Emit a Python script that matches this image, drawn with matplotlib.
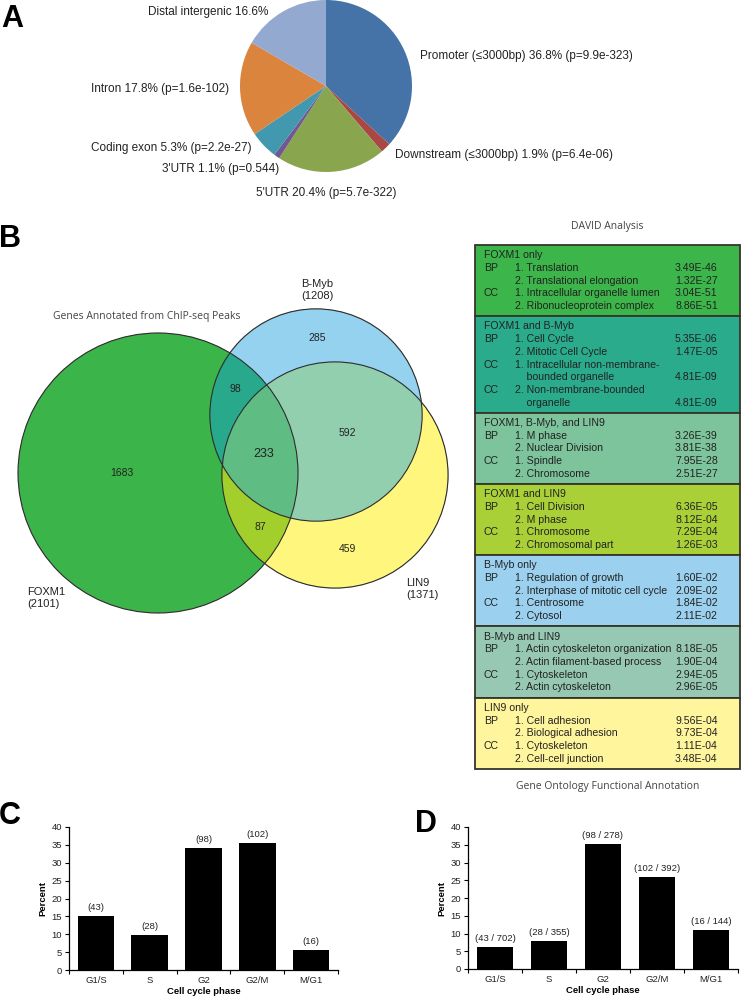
import numpy as np
import matplotlib.pyplot as plt
from matplotlib.patches import Circle, Rectangle

plt.rcParams['font.family'] = ['Liberation Sans', 'DejaVu Sans']

W, H = 742, 998

# ---------------------------------------------------------------- panel A data
pie_names = ["Promoter (\u22643000bp)", "Downstream (\u22643000bp)", "5'UTR", "3'UTR",
             "Coding exon", "Intron", "Distal intergenic"]
pie_pct = [36.8, 1.9, 20.4, 1.1, 5.3, 17.8, 16.6]
pie_pval = ["9.9e-323", "6.4e-06", "5.7e-322", "0.544", "2.2e-27", "1.6e-102", None]
pie_colors = ["#4572a7", "#aa4643", "#89a54e", "#71588f", "#4198af", "#db843d", "#93a9cf"]

# ---------------------------------------------------------------- panel B data
venn_names = ["FOXM1", "B-Myb", "LIN9"]
venn_totals = [2101, 1208, 1371]
# regions: A only, B only, C only, AB, AC, BC, ABC
venn_regions = ["100", "010", "001", "110", "101", "011", "111"]
venn_counts = [1683, 285, 459, 98, 87, 592, 233]
venn_colors = ["#3bb54a", "#94d2ef", "#fff67f", "#2aa98b", "#a4cf2e", "#93cfaf", "#5fbd84"]

david_titles = ["FOXM1 only", "FOXM1 and B-Myb", "FOXM1, B-Myb, and LIN9", "FOXM1 and LIN9",
                "B-Myb only", "B-Myb and LIN9", "LIN9 only"]
david_colors = ["#3cb54a", "#2aab8c", "#7dc39b", "#aad038", "#9bd0ee", "#97c8b3", "#fff59d"]
david_rows = [
    [("BP", "1. Translation", "3.49E-46"),
     ("", "2. Translational elongation", "1.32E-27"),
     ("CC", "1. Intracellular organelle lumen", "3.04E-51"),
     ("", "2. Ribonucleoprotein complex", "8.86E-51")],
    [("BP", "1. Cell Cycle", "5.35E-06"),
     ("", "2. Mitotic Cell Cycle", "1.47E-05"),
     ("CC", "1. Intracellular non-membrane-\n    bounded organelle", "4.81E-09"),
     ("CC", "2. Non-membrane-bounded\n    organelle", "4.81E-09")],
    [("BP", "1. M phase", "3.26E-39"),
     ("", "2. Nuclear Division", "3.81E-38"),
     ("CC", "1. Spindle", "7.95E-28"),
     ("", "2. Chromosome", "2.51E-27")],
    [("BP", "1. Cell Division", "6.36E-05"),
     ("", "2. M phase", "8.12E-04"),
     ("CC", "1. Chromosome", "7.29E-04"),
     ("", "2. Chromosomal part", "1.26E-03")],
    [("BP", "1. Regulation of growth", "1.60E-02"),
     ("", "2. Interphase of mitotic cell cycle", "2.09E-02"),
     ("CC", "1. Centrosome", "1.84E-02"),
     ("", "2. Cytosol", "2.11E-02")],
    [("BP", "1. Actin cytoskeleton organization", "8.18E-05"),
     ("", "2. Actin filament-based process", "1.90E-04"),
     ("CC", "1. Cytoskeleton", "2.94E-05"),
     ("", "2. Actin cytoskeleton", "2.96E-05")],
    [("BP", "1. Cell adhesion", "9.56E-04"),
     ("", "2. Biological adhesion", "9.73E-04"),
     ("CC", "1. Cytoskeleton", "1.11E-04"),
     ("", "2. Cell-cell junction", "3.48E-04")],
]

# ---------------------------------------------------------------- panels C/D data
phases = ["G1/S", "S", "G2", "G2/M", "M/G1"]
c_pct = [15.0, 9.8, 34.1, 35.5, 5.6]
c_labels = ["(43)", "(28)", "(98)", "(102)", "(16)"]
d_pct = [6.1, 7.9, 35.3, 26.0, 11.1]
d_labels = ["(43 / 702)", "(28 / 355)", "(98 / 278)", "(102 / 392)", "(16 / 144)"]


def px_axes(fig, x0, y0, x1, y1):
    ''' axes placed by pixel box (top-left origin) '''
    return fig.add_axes([x0 / W, 1 - y1 / H, (x1 - x0) / W, (y1 - y0) / H])


fig = plt.figure(figsize=(W / 100, H / 100), dpi=100)

# canvas for everything positioned in pixels
cv = fig.add_axes([0, 0, 1, 1])
cv.axis("off")

letter_kw = dict(fontsize=22, fontweight="bold", ha="center", va="center")
cv.text(12, 19, "A", **letter_kw)
cv.text(10, 239, "B", **letter_kw)
cv.text(10, 816, "C", **letter_kw)
cv.text(426, 824, "D", **letter_kw)

# ---------------------------------------------------------------- pie
pax = px_axes(fig, 240, 0, 412, 172)
pax.pie(pie_pct, colors=pie_colors, startangle=90, counterclock=False, radius=1.0,
        wedgeprops=dict(linewidth=0))
pax.set_xlim(-1, 1)
pax.set_ylim(-1, 1)

pie_pos = [(420, 56, "left"), (395, 155, "left"), (256, 193, "left"), (279, 169, "right"),
           (252, 148, "right"), (229, 89, "right"), (268, 12, "right")]
for name, pct, p, (x, y, ha) in zip(pie_names, pie_pct, pie_pval, pie_pos):
    s = f"{name} {pct}%" + (f" (p={p})" if p else "")
    cv.text(x, y, s, fontsize=8.5, ha=ha, va="center", color="#222222")

# ---------------------------------------------------------------- venn
centers = [(158, 473), (316, 415), (335, 475)]
r0 = 140
radii = [r0 * np.sqrt(t / venn_totals[0]) for t in venn_totals]

gx0, gx1, gy0, gy1 = 0, 470, 270, 630
xs = np.linspace(gx0, gx1, (gx1 - gx0) * 4)
ys = np.linspace(gy0, gy1, (gy1 - gy0) * 4)
XX, YY = np.meshgrid(xs, ys)
masks = [(XX - cx) ** 2 + (YY - cy) ** 2 <= r ** 2 for (cx, cy), r in zip(centers, radii)]
img = np.zeros(XX.shape + (4,))
for key, col in zip(venn_regions, venn_colors):
    sel = np.ones(XX.shape, bool)
    for m, k in zip(masks, key):
        sel &= m if k == "1" else ~m
    img[sel] = plt.matplotlib.colors.to_rgba(col)
cv.imshow(img, extent=(gx0, gx1, gy1, gy0), origin="upper", interpolation="antialiased")
for (cx, cy), r in zip(centers, radii):
    cv.add_patch(Circle((cx, cy), r, fill=False, edgecolor="#2d2d2d", linewidth=0.8))

region_pos = [(122, 473), (317, 338), (347, 549), (235, 389), (260, 527), (347, 433), (264, 454)]
for n, (x, y) in zip(venn_counts, region_pos):
    cv.text(x, y, str(n), fontsize=9 if n == 233 else 7.5, ha="center", va="center",
            color="#222222")

name_pos = [(27, 598, "left"), (317, 290, "center"), (406, 589, "left")]
for nm, tot, (x, y, ha) in zip(venn_names, venn_totals, name_pos):
    cv.text(x, y, f"{nm}\n({tot})", fontsize=8, ha=ha, va="center", color="#222222",
            linespacing=1.15)

cv.text(147, 316, "Genes Annotated from ChIP-seq Peaks", fontsize=7.5, ha="center",
        va="center", color="#444444", family=["Open Sans", "DejaVu Sans"])

# ---------------------------------------------------------------- DAVID table
cv.text(607, 226, "DAVID Analysis", fontsize=7.5, ha="center", va="center", color="#444444",
        family=["Open Sans", "DejaVu Sans"])
cv.text(608, 786, "Gene Ontology Functional Annotation", fontsize=7.5, ha="center",
        va="center", color="#444444", family=["Open Sans", "DejaVu Sans"])

tx0, tx1 = 475, 740
line_h = 12.7
pad = 10.2
y = 245
for title, col, rows in zip(david_titles, david_colors, david_rows):
    lines = [(title, "", "", "")]
    for cat, term, p in rows:
        parts = term.split("\n")
        for i, part in enumerate(parts):
            lines.append(("", cat if i == 0 else "", part, p if i == len(parts) - 1 else ""))
    h = 2 * pad + (len(lines) - 1) * line_h
    cv.add_patch(Rectangle((tx0, y), tx1 - tx0, h, facecolor=col, edgecolor="#35352a",
                           linewidth=1.3))
    for i, (head, cat, term, p) in enumerate(lines):
        ly = y + pad + i * line_h
        kw = dict(fontsize=7.6, va="center", color="#222222")
        if head:
            cv.text(484, ly, head, **kw)
        if cat:
            cv.text(484, ly, cat, **kw)
        if term:
            cv.text(515, ly, term, **kw)
        if p:
            cv.text(675, ly, p, **kw)
    y += h

cv.set_xlim(0, W)
cv.set_ylim(H, 0)
cv.set_aspect("auto")


# ---------------------------------------------------------------- bar charts
def bar_panel(box, values, labels):
    ax = px_axes(fig, *box)
    pos = np.arange(len(phases))
    ax.bar(pos, values, width=0.68, color="black")
    for xp, v, s in zip(pos, values, labels):
        ax.annotate(s, (xp, v), xytext=(0, 2.8), textcoords="offset points",
                    ha="center", va="bottom", fontsize=6.8, color="#222222")
    ax.set_xlim(-0.5, len(phases) - 0.5)
    ax.set_ylim(0, 40)
    ax.set_yticks(range(0, 41, 5))
    ax.set_xticks(pos, phases)
    ax.set_xticks(np.arange(-0.5, len(phases), 1), minor=True)
    ax.tick_params(axis="x", which="major", length=0, pad=4, labelsize=6.8,
                   labelcolor="#222222")
    ax.tick_params(axis="x", which="minor", length=3, width=0.8)
    ax.tick_params(axis="y", length=3, width=0.8, labelsize=6.8, pad=2,
                   labelcolor="#222222")
    for s in ("top", "right"):
        ax.spines[s].set_visible(False)
    for s in ("left", "bottom"):
        ax.spines[s].set_linewidth(0.9)
    ax.set_ylabel("Percent", fontsize=6.8, fontweight="bold", labelpad=3)
    ax.set_xlabel("Cell cycle phase", fontsize=6.8, fontweight="bold", labelpad=1.5)
    return ax


bar_panel((69, 827, 338, 970), c_pct, c_labels)
bar_panel((468, 827, 738, 969), d_pct, d_labels)

fig.savefig("out.png", dpi=100)
